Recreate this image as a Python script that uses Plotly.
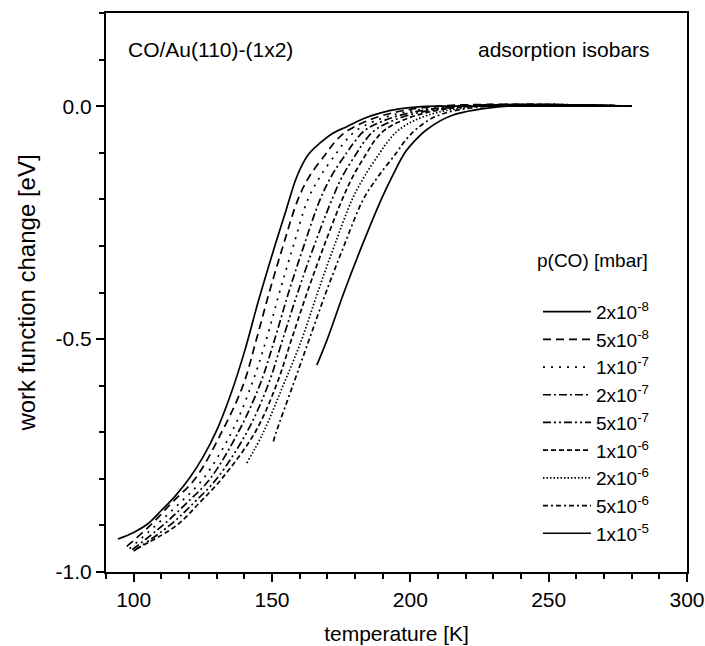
import plotly.graph_objects as go
import numpy as np

# ---- data ----
labels = ["2x10<sup>-8</sup>", "5x10<sup>-8</sup>", "1x10<sup>-7</sup>", "2x10<sup>-7</sup>",
          "5x10<sup>-7</sup>", "1x10<sup>-6</sup>", "2x10<sup>-6</sup>", "5x10<sup>-6</sup>",
          "1x10<sup>-5</sup>"]

t_2e8 = [94.3, 100.0, 105.0, 110.0, 115.0, 120.0, 125.0, 130.0, 135.0, 140.0, 145.0, 150.0, 155.0,
         159.0, 163.0, 167.4, 172.0, 177.0, 183.0, 189.0, 196.0, 204.0, 215.0, 280.0]
w_2e8 = [-0.929, -0.915, -0.897, -0.868, -0.837, -0.800, -0.754, -0.696, -0.620, -0.528, -0.420,
         -0.320, -0.225, -0.151, -0.105, -0.079, -0.058, -0.044, -0.027, -0.015, -0.006, -0.001, 0.0, 0.0]

t_5e8 = [97.5, 106.0, 114.0, 122.2, 131.8, 139.5, 144.4, 149.0, 154.0, 159.4, 163.6, 169.8, 173.0, 178.0, 190.0, 210.0, 280.0]
w_5e8 = [-0.945, -0.90, -0.85, -0.80, -0.70, -0.60, -0.50, -0.40, -0.30, -0.20, -0.15, -0.10, -0.075, -0.05, -0.02, 0.0, 0.0]

t_1e7 = [98.5, 108.0, 117.0, 125.1, 135.4, 142.5, 148.0, 152.7, 157.7, 163.0, 167.5, 173.4, 176.5, 181.0, 193.0, 215.0, 280.0]
w_1e7 = [-0.950, -0.90, -0.85, -0.80, -0.70, -0.60, -0.50, -0.40, -0.30, -0.20, -0.15, -0.10, -0.075, -0.05, -0.02, 0.0, 0.0]

t_2e7 = [99.5, 110.5, 119.5, 127.6, 137.8, 145.5, 151.0, 156.0, 161.5, 167.4, 171.5, 177.0, 180.0, 184.0, 196.0, 218.0, 280.0]
w_2e7 = [-0.952, -0.90, -0.85, -0.80, -0.70, -0.60, -0.50, -0.40, -0.30, -0.20, -0.15, -0.10, -0.075, -0.05, -0.02, 0.0, 0.0]

t_5e7 = [100.0, 113.0, 122.0, 130.0, 140.9, 148.5, 153.9, 159.3, 165.2, 171.7, 175.5, 180.7, 183.5, 187.5, 199.0, 220.0, 280.0]
w_5e7 = [-0.955, -0.90, -0.85, -0.80, -0.70, -0.60, -0.50, -0.40, -0.30, -0.20, -0.15, -0.10, -0.075, -0.05, -0.02, 0.0, 0.0]

t_1e6 = [101.0, 115.5, 124.0, 131.8, 143.9, 151.5, 157.1, 162.7, 168.8, 175.4, 179.3, 184.3, 187.0, 191.0, 202.0, 222.0, 280.0]
w_1e6 = [-0.950, -0.90, -0.85, -0.80, -0.70, -0.60, -0.50, -0.40, -0.30, -0.20, -0.15, -0.10, -0.075, -0.05, -0.02, 0.0, 0.0]

t_2e6 = [140.9, 146.9, 154.0, 160.8, 166.5, 172.5, 179.0, 183.5, 189.0, 192.0, 196.0, 206.0, 225.0, 280.0]
w_2e6 = [-0.766, -0.70, -0.60, -0.50, -0.40, -0.30, -0.20, -0.15, -0.10, -0.075, -0.05, -0.02, 0.0, 0.0]

t_5e6 = [150.5, 151.5, 157.5, 163.5, 169.5, 176.0, 183.0, 188.5, 195.0, 198.0, 202.0, 210.0, 228.0, 280.0]
w_5e6 = [-0.72, -0.70, -0.60, -0.50, -0.40, -0.30, -0.20, -0.15, -0.10, -0.075, -0.05, -0.02, 0.0, 0.0]

t_1e5 = [166.2, 170.0, 176.0, 182.5, 189.5, 193.5, 198.0, 201.5, 206.0, 215.0, 235.0, 280.0]
w_1e5 = [-0.556, -0.50, -0.40, -0.30, -0.20, -0.15, -0.10, -0.075, -0.05, -0.02, 0.0, 0.0]

series_t = [t_2e8, t_5e8, t_1e7, t_2e7, t_5e7, t_1e6, t_2e6, t_5e6, t_1e5]
series_w = [w_2e8, w_5e8, w_1e7, w_2e7, w_5e7, w_1e6, w_2e6, w_5e6, w_1e5]

dashes = ["solid", "8px,5px", "2px,6px", "8px,3px,2px,3px", "8px,3px,2px,3px,2px,3px",
          "5px,3px", "1.5px,2px", "5px,3px,2px,3px", "solid"]

x_ticks = [100, 150, 200, 250, 300]
y_ticks = [-1.0, -0.5, 0.0]
y_ticktext = ["-1.0", "-0.5", "0.0"]

FONT = "Liberation Sans, Arial, sans-serif"
FS = 21

fig = go.Figure()
for t, w, lab, d in zip(series_t, series_w, labels, dashes):
    fig.add_trace(go.Scatter(x=t, y=w, mode="lines", name=lab,
                             line=dict(color="black", width=1.7, dash=d,
                                       shape="spline", smoothing=1.0)))

fig.update_layout(
    width=705, height=646,
    margin=dict(l=106, r=18, t=13, b=74, autoexpand=False),
    paper_bgcolor="white", plot_bgcolor="white",
    font=dict(family=FONT, size=FS, color="black"),
    showlegend=True,
    legend=dict(x=0.7435, y=0.4995, xanchor="left", yanchor="top",
                bgcolor="rgba(0,0,0,0)", borderwidth=0,
                font=dict(family=FONT, size=19), itemwidth=48,
                tracegroupgap=0),
    xaxis=dict(range=[90, 300], showgrid=False, zeroline=False, automargin=False,
               showline=True, linecolor="black", linewidth=2, mirror=True,
               ticks="outside", ticklen=8, tickwidth=1.5, tickcolor="black",
               tickmode="array", tickvals=x_ticks,
               minor=dict(tickmode="array", tickvals=list(range(90, 301, 10)),
                          ticks="outside", ticklen=5, tickwidth=1.5, tickcolor="black"),
               tickfont=dict(size=FS),
               title=dict(text="temperature [K]", font=dict(size=FS), standoff=16)),
    yaxis=dict(range=[-1.0, 0.2], showgrid=False, zeroline=False, automargin=False,
               showline=True, linecolor="black", linewidth=2, mirror=True,
               ticks="outside", ticklen=8, tickwidth=1.5, tickcolor="black",
               tickmode="array", tickvals=y_ticks, ticktext=y_ticktext,
               minor=dict(tickmode="array",
                          tickvals=[round(v, 1) for v in np.arange(-1.0, 0.21, 0.1)],
                          ticks="outside", ticklen=5, tickwidth=1.5, tickcolor="black"),
               tickfont=dict(size=FS),
               title=dict(text="work function change [eV]", font=dict(size=24), standoff=13)),
)

fig.add_annotation(x=0.035, y=0.934, xref="paper", yref="paper", xanchor="left", yanchor="middle",
                   text="CO/Au(110)-(1x2)", showarrow=False, font=dict(family=FONT, size=FS))
fig.add_annotation(x=0.94, y=0.934, xref="paper", yref="paper", xanchor="right", yanchor="middle",
                   text="adsorption isobars", showarrow=False, font=dict(family=FONT, size=FS))
fig.add_annotation(x=0.8365, y=0.558, xref="paper", yref="paper", xanchor="center", yanchor="middle",
                   text="p(CO) [mbar]", showarrow=False, font=dict(family=FONT, size=19))

fig.write_html("out.html")
